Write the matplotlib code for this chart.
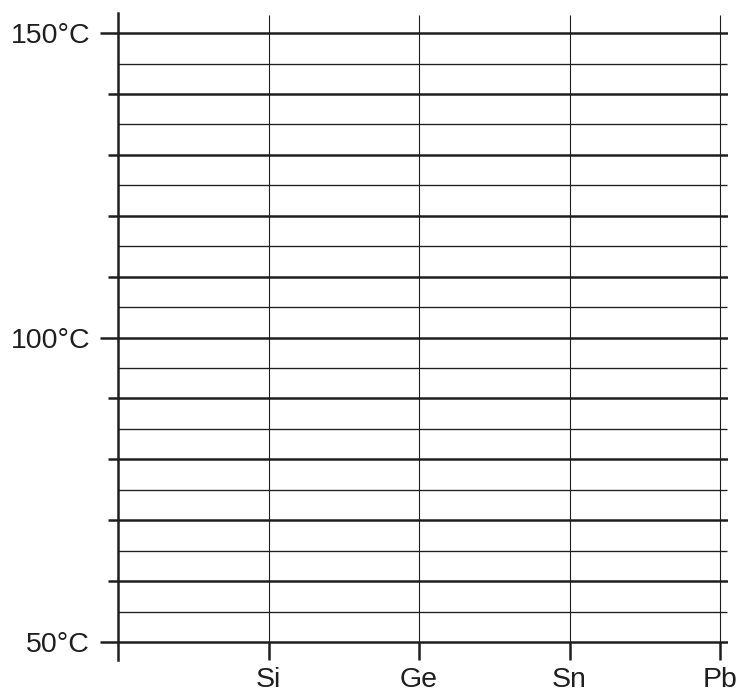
import matplotlib
matplotlib.use("Agg")
import matplotlib.pyplot as plt
import numpy as np

plt.rcParams['font.family'] = ['Liberation Sans', 'DejaVu Sans']

categories = ['Si', 'Ge', 'Sn', 'Pb']
cat_pos = [1, 2, 3, 4]
y_label_ticks = [50, 100, 150]
y_label_text = ['50°C', '100°C', '150°C']
major_lines = list(range(50, 151, 10))
minor_lines = list(range(55, 146, 10))
unlabeled_major = [v for v in major_lines if v not in y_label_ticks]

col = '#1e1e1e'
fig = plt.figure(figsize=(7.40, 6.93), dpi=100)
ax = fig.add_axes([118/740, 33/693, 610/740, 647/693])
ax.set_xlim(0, 610/150.5)
ax.set_ylim(47.05, 153.3)

# horizontal grid lines
ax.hlines(major_lines, 0, 610/150.5, color=col, lw=1.8, zorder=2)
ax.hlines(minor_lines, 0, 609/150.5, color=col, lw=0.95, zorder=2)
# vertical lines
ax.vlines(cat_pos, 50, 153.0, color=col, lw=0.8, zorder=1)

for s in ['top', 'right', 'bottom']:
    ax.spines[s].set_visible(False)
ax.spines['left'].set_linewidth(1.8)
ax.spines['left'].set_color(col)

ax.set_yticks(y_label_ticks, y_label_text)
ax.set_yticks(unlabeled_major, minor=True)
ax.tick_params(axis='y', which='major', length=13, width=1.8, color=col, pad=7,
               labelsize=20.5, labelcolor=col)
ax.tick_params(axis='y', which='minor', length=7.5, width=1.8, color=col)

ax.set_xticks(cat_pos, categories)
ax.tick_params(axis='x', which='major', length=13, width=1.8, color=col, pad=5,
               labelsize=20.5, labelcolor=col, direction='out')
ax.xaxis.set_ticks_position('bottom')
ax.spines['bottom'].set_position(('data', 50))
ax.spines['bottom'].set_visible(False)

fig.savefig('out.png', dpi=100)
